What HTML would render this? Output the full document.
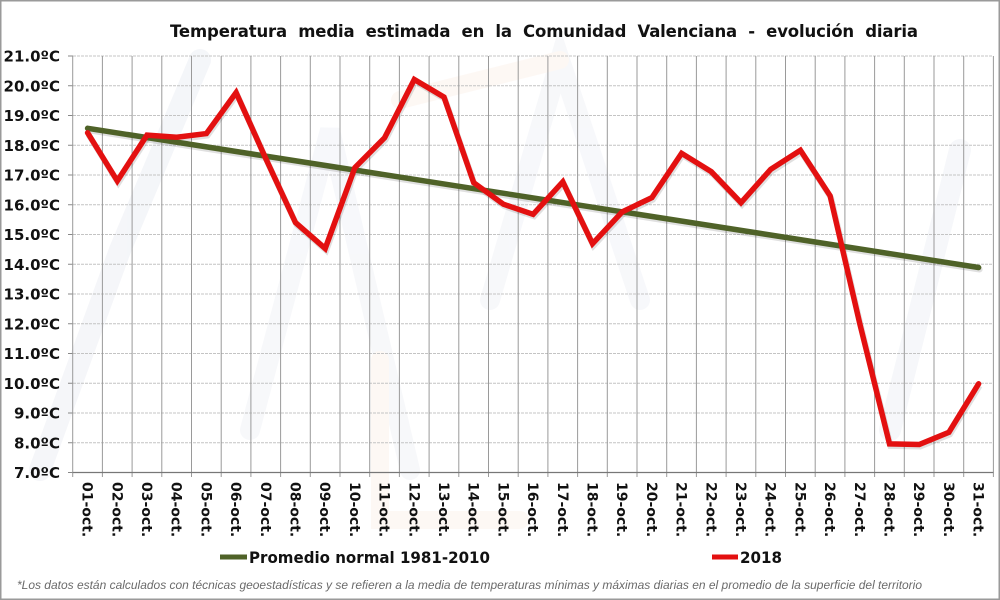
<!DOCTYPE html>
<html><head><meta charset="utf-8"><style>
html,body{margin:0;padding:0;background:#fff;}
svg{display:block;}
</style></head><body>
<svg width="1000" height="600" viewBox="0 0 1000 600" xmlns="http://www.w3.org/2000/svg">
<rect x="0" y="0" width="1000" height="600" fill="#fff"/>
<!-- faint watermark -->
<g fill="none" stroke-linecap="round" opacity="0.4">
<path d="M40 470 L120 250 L200 60" stroke="#e6e9f1" stroke-width="22"/>
<path d="M250 430 L330 130 L410 470" stroke="#eceef4" stroke-width="20"/>
<path d="M490 300 L560 60 L640 300" stroke="#eceef4" stroke-width="20"/>
<path d="M890 430 L960 150" stroke="#e9ecf3" stroke-width="22"/>
<path d="M380 360 L380 520 L520 520" stroke="#fbefe6" stroke-width="18"/>
<path d="M400 100 L560 60" stroke="#fbefe6" stroke-width="18"/>
</g>
<!-- title -->
<text x="170" y="37" xml:space="preserve" font-family="DejaVu Sans, Liberation Sans, sans-serif" font-weight="bold" font-size="16.5" fill="#111" textLength="748" lengthAdjust="spacing">Temperatura  media  estimada  en  la  Comunidad  Valenciana  -  evolución  diaria</text>
<!-- horizontal grid -->
<g stroke="#c4c4c4" stroke-width="1" stroke-dasharray="3,1">
<line x1="73" x2="993" y1="56" y2="56"/>
<line x1="73" x2="993" y1="85.75" y2="85.75"/>
<line x1="73" x2="993" y1="115.5" y2="115.5"/>
<line x1="73" x2="993" y1="145.25" y2="145.25"/>
<line x1="73" x2="993" y1="175" y2="175"/>
<line x1="73" x2="993" y1="204.75" y2="204.75"/>
<line x1="73" x2="993" y1="234.5" y2="234.5"/>
<line x1="73" x2="993" y1="264.25" y2="264.25"/>
<line x1="73" x2="993" y1="294" y2="294"/>
<line x1="73" x2="993" y1="323.75" y2="323.75"/>
<line x1="73" x2="993" y1="353.5" y2="353.5"/>
<line x1="73" x2="993" y1="383.25" y2="383.25"/>
<line x1="73" x2="993" y1="413" y2="413"/>
<line x1="73" x2="993" y1="442.75" y2="442.75"/>
</g>
<!-- y ticks -->
<g stroke="#888" stroke-width="1">
<line x1="68" x2="73" y1="56" y2="56"/><line x1="68" x2="73" y1="85.75" y2="85.75"/><line x1="68" x2="73" y1="115.5" y2="115.5"/><line x1="68" x2="73" y1="145.25" y2="145.25"/><line x1="68" x2="73" y1="175" y2="175"/><line x1="68" x2="73" y1="204.75" y2="204.75"/><line x1="68" x2="73" y1="234.5" y2="234.5"/><line x1="68" x2="73" y1="264.25" y2="264.25"/><line x1="68" x2="73" y1="294" y2="294"/><line x1="68" x2="73" y1="323.75" y2="323.75"/><line x1="68" x2="73" y1="353.5" y2="353.5"/><line x1="68" x2="73" y1="383.25" y2="383.25"/><line x1="68" x2="73" y1="413" y2="413"/><line x1="68" x2="73" y1="442.75" y2="442.75"/><line x1="68" x2="73" y1="472.5" y2="472.5"/>
</g>
<!-- vertical grid -->
<g stroke="#9a9a9a" stroke-width="1">
<line x1="72.7" x2="72.7" y1="56" y2="477"/><line x1="102.4" x2="102.4" y1="56" y2="477"/><line x1="132.1" x2="132.1" y1="56" y2="477"/><line x1="161.8" x2="161.8" y1="56" y2="477"/><line x1="191.5" x2="191.5" y1="56" y2="477"/><line x1="221.2" x2="221.2" y1="56" y2="477"/><line x1="250.9" x2="250.9" y1="56" y2="477"/><line x1="280.6" x2="280.6" y1="56" y2="477"/><line x1="310.3" x2="310.3" y1="56" y2="477"/><line x1="340" x2="340" y1="56" y2="477"/><line x1="369.7" x2="369.7" y1="56" y2="477"/><line x1="399.4" x2="399.4" y1="56" y2="477"/><line x1="429.1" x2="429.1" y1="56" y2="477"/><line x1="458.8" x2="458.8" y1="56" y2="477"/><line x1="488.5" x2="488.5" y1="56" y2="477"/><line x1="518.2" x2="518.2" y1="56" y2="477"/><line x1="547.9" x2="547.9" y1="56" y2="477"/><line x1="577.6" x2="577.6" y1="56" y2="477"/><line x1="607.3" x2="607.3" y1="56" y2="477"/><line x1="637" x2="637" y1="56" y2="477"/><line x1="666.7" x2="666.7" y1="56" y2="477"/><line x1="696.4" x2="696.4" y1="56" y2="477"/><line x1="726.1" x2="726.1" y1="56" y2="477"/><line x1="755.8" x2="755.8" y1="56" y2="477"/><line x1="785.5" x2="785.5" y1="56" y2="477"/><line x1="815.2" x2="815.2" y1="56" y2="477"/><line x1="844.9" x2="844.9" y1="56" y2="477"/><line x1="874.6" x2="874.6" y1="56" y2="477"/><line x1="904.3" x2="904.3" y1="56" y2="477"/><line x1="934" x2="934" y1="56" y2="477"/><line x1="963.7" x2="963.7" y1="56" y2="477"/><line x1="993.4" x2="993.4" y1="56" y2="477"/>
</g>
<line x1="72.7" x2="993.4" y1="472.5" y2="472.5" stroke="#777" stroke-width="1.2"/>
<!-- y labels -->
<g font-family="DejaVu Sans, Liberation Sans, sans-serif" font-weight="bold" font-size="15" fill="#111" text-anchor="end">
<text x="60" y="61.5">21.0ºC</text>
<text x="60" y="91.25">20.0ºC</text>
<text x="60" y="121">19.0ºC</text>
<text x="60" y="150.75">18.0ºC</text>
<text x="60" y="180.5">17.0ºC</text>
<text x="60" y="210.25">16.0ºC</text>
<text x="60" y="240">15.0ºC</text>
<text x="60" y="269.75">14.0ºC</text>
<text x="60" y="299.5">13.0ºC</text>
<text x="60" y="329.25">12.0ºC</text>
<text x="60" y="359">11.0ºC</text>
<text x="60" y="388.75">10.0ºC</text>
<text x="60" y="418.5">9.0ºC</text>
<text x="60" y="448.25">8.0ºC</text>
<text x="60" y="478">7.0ºC</text>
</g>
<!-- x labels -->
<g font-family="DejaVu Sans, Liberation Sans, sans-serif" font-weight="bold" font-size="14" fill="#111">
<text transform="translate(82.6,482) rotate(90)">01-oct.</text>
<text transform="translate(112.3,482) rotate(90)">02-oct.</text>
<text transform="translate(142,482) rotate(90)">03-oct.</text>
<text transform="translate(171.7,482) rotate(90)">04-oct.</text>
<text transform="translate(201.4,482) rotate(90)">05-oct.</text>
<text transform="translate(231.1,482) rotate(90)">06-oct.</text>
<text transform="translate(260.8,482) rotate(90)">07-oct.</text>
<text transform="translate(290.5,482) rotate(90)">08-oct.</text>
<text transform="translate(320.2,482) rotate(90)">09-oct.</text>
<text transform="translate(349.9,482) rotate(90)">10-oct.</text>
<text transform="translate(379.6,482) rotate(90)">11-oct.</text>
<text transform="translate(409.3,482) rotate(90)">12-oct.</text>
<text transform="translate(439,482) rotate(90)">13-oct.</text>
<text transform="translate(468.7,482) rotate(90)">14-oct.</text>
<text transform="translate(498.4,482) rotate(90)">15-oct.</text>
<text transform="translate(528.1,482) rotate(90)">16-oct.</text>
<text transform="translate(557.8,482) rotate(90)">17-oct.</text>
<text transform="translate(587.5,482) rotate(90)">18-oct.</text>
<text transform="translate(617.2,482) rotate(90)">19-oct.</text>
<text transform="translate(646.9,482) rotate(90)">20-oct.</text>
<text transform="translate(676.6,482) rotate(90)">21-oct.</text>
<text transform="translate(706.3,482) rotate(90)">22-oct.</text>
<text transform="translate(736,482) rotate(90)">23-oct.</text>
<text transform="translate(765.7,482) rotate(90)">24-oct.</text>
<text transform="translate(795.4,482) rotate(90)">25-oct.</text>
<text transform="translate(825.1,482) rotate(90)">26-oct.</text>
<text transform="translate(854.8,482) rotate(90)">27-oct.</text>
<text transform="translate(884.5,482) rotate(90)">28-oct.</text>
<text transform="translate(914.2,482) rotate(90)">29-oct.</text>
<text transform="translate(943.9,482) rotate(90)">30-oct.</text>
<text transform="translate(973.6,482) rotate(90)">31-oct.</text>
</g>
<!-- series shadows -->
<line x1="88.6" y1="130.3" x2="979.6" y2="269.5" stroke="#000" stroke-opacity="0.12" stroke-width="6" stroke-linecap="round"/>
<polyline fill="none" stroke="#000" stroke-opacity="0.12" stroke-width="6" stroke-linejoin="miter" transform="translate(1,2)" points="87.6,132.8 117.3,180.9 147,135.1 176.7,137.2 206.4,133.6 236.1,92.6 265.8,158.6 295.5,222.6 325.2,248.5 354.9,167.6 384.6,137.8 414.3,79.5 444,97.1 473.7,182.7 503.4,204.2 533.1,214.3 562.8,181.8 592.5,243.7 622.2,211.9 651.9,197.6 681.6,153.3 711.3,171.7 741,202.7 770.7,169.3 800.4,150.3 830.1,195.8 859.8,323.7 889.5,443.9 919.2,444.5 948.9,432.3 978.6,383.8"/>
<!-- normal -->
<line x1="87.6" y1="128.3" x2="978.6" y2="267.5" stroke="#4f6228" stroke-width="5.5" stroke-linecap="round"/>
<!-- 2018 -->
<polyline fill="none" stroke="#e31010" stroke-width="5.5" stroke-linejoin="miter" stroke-linecap="round" points="87.6,132.8 117.3,180.9 147,135.1 176.7,137.2 206.4,133.6 236.1,92.6 265.8,158.6 295.5,222.6 325.2,248.5 354.9,167.6 384.6,137.8 414.3,79.5 444,97.1 473.7,182.7 503.4,204.2 533.1,214.3 562.8,181.8 592.5,243.7 622.2,211.9 651.9,197.6 681.6,153.3 711.3,171.7 741,202.7 770.7,169.3 800.4,150.3 830.1,195.8 859.8,323.7 889.5,443.9 919.2,444.5 948.9,432.3 978.6,383.8"/>
<!-- legend -->
<line x1="220" y1="557" x2="247" y2="557" stroke="#4f6228" stroke-width="5"/>
<text x="249" y="563" font-family="DejaVu Sans, Liberation Sans, sans-serif" font-weight="bold" font-size="16" fill="#111" textLength="241" lengthAdjust="spacingAndGlyphs">Promedio normal 1981-2010</text>
<line x1="712" y1="557" x2="738" y2="557" stroke="#e31010" stroke-width="5"/>
<text x="740" y="563" font-family="DejaVu Sans, Liberation Sans, sans-serif" font-weight="bold" font-size="16" fill="#111" textLength="42" lengthAdjust="spacingAndGlyphs">2018</text>
<!-- footnote -->
<text x="17" y="589" font-family="Liberation Sans, DejaVu Sans, sans-serif" font-style="italic" font-size="11.5" fill="#6a6a6a" textLength="905" lengthAdjust="spacingAndGlyphs">*Los datos están calculados con técnicas geoestadísticas y se refieren a la media de temperaturas mínimas y máximas diarias en el promedio de la superficie del territorio</text>
<!-- border -->
<rect x="0.75" y="0.75" width="998.5" height="598.5" fill="none" stroke="#9a9a9a" stroke-width="1.5"/>
</svg>
</body></html>
